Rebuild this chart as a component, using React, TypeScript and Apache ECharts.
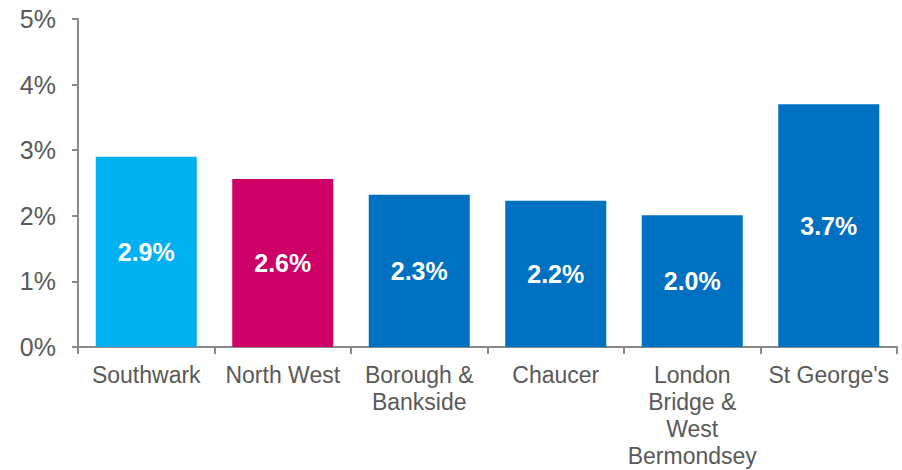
import React, { useEffect, useRef } from "react";
import * as echarts from "echarts";

const categories = [
  "Southwark",
  "North West",
  "Borough &\nBankside",
  "Chaucer",
  "London\nBridge &\nWest\nBermondsey",
  "St George's",
];
const values = [2.9, 2.56, 2.32, 2.23, 2.01, 3.7];
const barColors = ["#00B0F0", "#CC0066", "#0070C0", "#0070C0", "#0070C0", "#0070C0"];
const yTicks = [0, 1, 2, 3, 4, 5];

export default function App() {
  const ref = useRef<HTMLDivElement>(null);
  useEffect(() => {
    if (!ref.current) return;
    const chart = echarts.init(ref.current, null, { renderer: "svg" });
    const axisColor = "#8A8A8A";
    const textColor = "#595959";
    chart.setOption({
      animation: false,
      backgroundColor: "#ffffff",
      grid: { left: 78, right: 5, top: 19, bottom: 123, containLabel: false },
      xAxis: {
        type: "category",
        data: categories,
        axisLine: { show: true, lineStyle: { color: axisColor, width: 2 } },
        axisTick: { show: true, length: 7, lineStyle: { color: axisColor, width: 2 } },
        axisLabel: {
          color: textColor,
          fontFamily: "Liberation Sans, Arial, sans-serif",
          fontSize: 23,
          lineHeight: 27,
          margin: 14,
          interval: 0,
        },
      },
      yAxis: {
        type: "value",
        min: yTicks[0],
        max: yTicks[yTicks.length - 1],
        interval: 1,
        splitLine: { show: false },
        axisLine: { show: true, lineStyle: { color: axisColor, width: 2 } },
        axisTick: { show: true, length: 6, lineStyle: { color: axisColor, width: 2 } },
        axisLabel: {
          color: textColor,
          fontFamily: "Liberation Sans, Arial, sans-serif",
          fontSize: 25,
          margin: 22,
          formatter: "{value}%",
        },
      },
      series: [
        {
          type: "bar",
          data: values.map((v, i) => ({ value: v, itemStyle: { color: barColors[i] } })),
          barWidth: "74%",
          label: {
            show: true,
            position: "inside",
            color: "#ffffff",
            fontFamily: "Liberation Sans, Arial, sans-serif",
            fontWeight: "bold",
            fontSize: 25,
            formatter: (p: any) => p.value.toFixed(1) + "%",
          },
        },
      ],
    });
    return () => chart.dispose();
  }, []);
  return (
    <div
      ref={ref}
      style={{ position: "fixed", left: 0, top: 0, width: 902, height: 470 }}
    />
  );
}
